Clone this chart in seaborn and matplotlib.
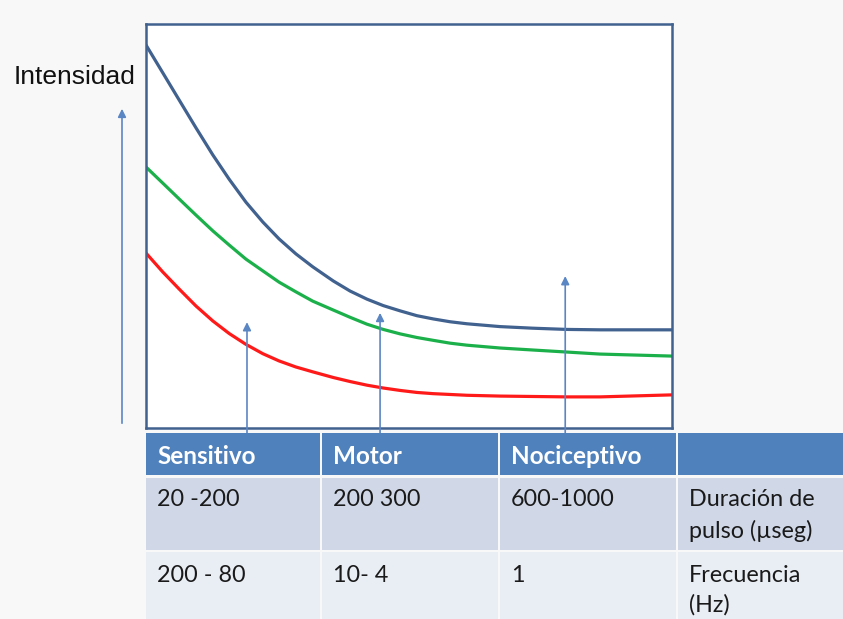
import matplotlib
matplotlib.use("Agg")
import matplotlib.pyplot as plt
import pandas as pd
import seaborn as sns
from matplotlib.patches import Rectangle, FancyArrowPatch

# Curves: intensity (0-100) vs pulse duration (0-100)
x_vals = [0.0, 3.2, 6.3, 9.5, 12.7, 15.8, 19.0, 22.2, 25.3, 28.5, 31.7, 35.6, 38.8, 42.0,
          45.1, 48.3, 51.5, 54.6, 57.8, 61.0, 67.3, 73.6, 80.0, 86.3, 100.0]
blue_vals = [94.8, 87.9, 81.2, 74.3, 67.6, 61.6, 55.9, 51.0, 46.8, 43.1, 39.9, 36.4, 33.9, 31.9,
             30.3, 29.0, 27.8, 27.0, 26.3, 25.8, 25.1, 24.7, 24.4, 24.3, 24.3]
green_vals = [64.6, 60.6, 56.7, 52.7, 48.8, 45.3, 41.8, 38.9, 36.1, 33.7, 31.4, 29.2, 27.4, 25.7,
              24.4, 23.3, 22.4, 21.7, 21.0, 20.5, 19.8, 19.3, 18.8, 18.3, 17.8]
red_vals = [43.3, 38.6, 34.4, 30.2, 26.5, 23.4, 20.7, 18.4, 16.6, 15.1, 13.9, 12.5, 11.5, 10.6,
            9.9, 9.3, 8.8, 8.5, 8.3, 8.1, 7.9, 7.8, 7.7, 7.7, 8.2]

# arrows marking the three fibre types
arrow_x = [19.2, 44.5, 79.7]
arrow_top = [26.2, 28.5, 37.6]

# table
header = ["Sensitivo", "Motor", "Nociceptivo", ""]
row_duracion = ["20 -200", "200 300", "600-1000", "Duración de\npulso (µseg)"]
row_frecuencia = ["200 - 80", "10- 4", "1", "Frecuencia\n(Hz)"]

blue = "#41618f"
green = "#1cb04b"
red = "#ff1a1a"
arrow_col = "#5b86c4"

sns.set_theme(style="white")
plt.rcParams['font.family'] = ['Lato', 'DejaVu Sans']

W, H = 843, 619
fig = plt.figure(figsize=(W / 100, H / 100), dpi=100, facecolor="#f8f8f9")

# main plot box
ax = fig.add_axes([146 / W, (H - 428) / H, 526 / W, 404 / H])
df = pd.DataFrame({
    "x": x_vals * 3,
    "y": blue_vals + green_vals + red_vals,
    "curva": ["azul"] * len(x_vals) + ["verde"] * len(x_vals) + ["rojo"] * len(x_vals),
})
sns.lineplot(data=df, x="x", y="y", hue="curva",
             palette={"azul": blue, "verde": green, "rojo": red},
             linewidth=2.3, legend=False, ax=ax,
             solid_joinstyle="round", solid_capstyle="round")
ax.set_xlim(0, 100)
ax.set_ylim(0, 100)
ax.set_xticks([])
ax.set_yticks([])
ax.set_xlabel("")
ax.set_ylabel("")
ax.set_facecolor("white")
for s in ax.spines.values():
    s.set_color(blue)
    s.set_linewidth(1.8)
    s.set_visible(True)

for xa, ya in zip(arrow_x, arrow_top):
    ax.annotate("", xy=(xa, ya), xytext=(xa, -1.5), xycoords="data",
                arrowprops=dict(arrowstyle="-|>", color=arrow_col, lw=1.2,
                                mutation_scale=12, shrinkA=0, shrinkB=0),
                annotation_clip=False)

# y-axis arrow and label
fig.patches.append(FancyArrowPatch(
    (122 / W, (H - 426) / H), (122 / W, (H - 106) / H), transform=fig.transFigure,
    arrowstyle="-|>", color=arrow_col, lw=1.2, mutation_scale=12))
fig.text(75 / W, (H - 77) / H, "Intensidad", ha="center", va="center",
         fontsize=19, family=["Liberation Sans", "DejaVu Sans"], color="#111111")

# table
tax = fig.add_axes([0, 0, 1, 1])
tax.set_xlim(0, W)
tax.set_ylim(H, 0)
tax.axis("off")
col_edges = [146, 322, 500, 678, W + 5]
row_edges = [(433, 475), (478, 550), (552, H + 5)]
row_colors = ["#4f81bd", "#d0d8e8", "#e9edf4"]
rows = [header, row_duracion, row_frecuencia]
for r, (y0, y1) in enumerate(row_edges):
    for c in range(4):
        x0 = col_edges[c]
        x1 = col_edges[c + 1] - 2
        tax.add_patch(Rectangle((x0, y0), x1 - x0, y1 - y0, color=row_colors[r], lw=0))
        txt = rows[r][c]
        if not txt:
            continue
        if r == 0:
            tax.text(x0 + 11, (y0 + y1) / 2 + 2, txt, ha="left", va="center",
                     fontsize=17.5, fontweight="bold", color="white")
        else:
            first = y0 + (21 if r == 1 else 24)
            gap = 32 if r == 1 else 29
            for k, line in enumerate(txt.split("\n")):
                tax.text(x0 + 11, first + k * gap, line, ha="left", va="center",
                         fontsize=16.8, color="#1a1a1a")

fig.savefig("out.png", dpi=100, facecolor=fig.get_facecolor())
